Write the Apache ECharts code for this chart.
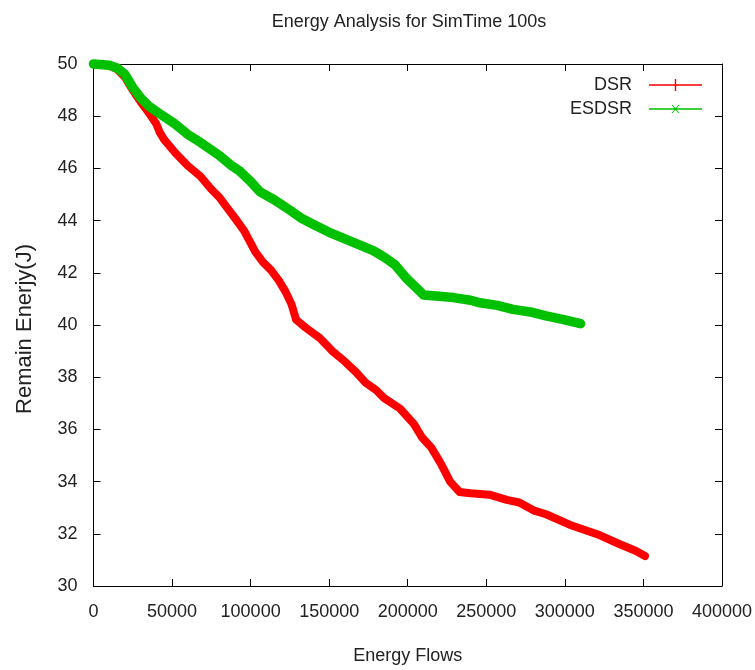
<!DOCTYPE html>
<html>
<head>
<meta charset="utf-8">
<script src="https://cdn.jsdelivr.net/npm/echarts@6/dist/echarts.min.js"></script>
<style>
html,body{margin:0;padding:0;background:#fff;}
#chart{width:755px;height:670px;}
</style>
</head>
<body>
<div id="chart"></div>
<script>
// Energy flows (x) and remaining energy (y)
var dsrX = [0,10000,15000,20000,25000,30000,35000,40000,42000,45000,52000,60000,68000,75000,80000,85000,90000,96000,103000,108000,113000,118000,122000,126000,129000,135000,144000,152000,160000,167000,173000,180000,185000,195000,204000,209000,215000,221000,227000,233000,240000,252000,263000,271000,280000,288000,303000,315000,322000,335000,345000,351000];
var dsrY = [50.0,49.95,49.8,49.5,49.0,48.55,48.15,47.7,47.4,47.1,46.6,46.1,45.7,45.2,44.9,44.5,44.1,43.6,42.8,42.4,42.1,41.7,41.3,40.8,40.2,39.9,39.5,39.0,38.6,38.2,37.8,37.5,37.2,36.8,36.2,35.7,35.3,34.7,34.0,33.6,33.55,33.5,33.3,33.2,32.9,32.75,32.35,32.1,31.95,31.6,31.35,31.15];
var esdsrX = [0,10000,15000,20000,25000,30000,35000,42000,52000,60000,68000,80000,88000,93000,100000,106000,115000,125000,132000,140000,150000,160000,170000,178000,185000,192000,199000,205000,210000,220000,229000,240000,246000,257000,267000,278000,288000,300000,310000];
var esdsrY = [50.0,49.95,49.85,49.6,49.1,48.7,48.4,48.1,47.7,47.3,47.0,46.5,46.1,45.9,45.5,45.1,44.8,44.4,44.1,43.85,43.55,43.3,43.05,42.85,42.6,42.3,41.8,41.45,41.15,41.1,41.05,40.95,40.85,40.75,40.6,40.5,40.35,40.2,40.05];
var seriesNames = ['DSR','ESDSR'];
var titleText = 'Energy Analysis for SimTime 100s';
var xName = 'Energy Flows';
var yName = 'Remain Enerjy(J)';

function pairs(xs, ys){ return xs.map(function(x,i){ return [x, ys[i]]; }); }

var FONT = 'Liberation Sans';
var chart = echarts.init(document.getElementById('chart'), null, {renderer:'canvas'});

var corner = 'M0,0 L0.01,0 L0,0.01 Z M53,14 L52.99,14 L53,13.99 Z ';
var plusIcon = 'path://' + corner + 'M0,6.3 L53,6.3 L53,7.7 L0,7.7 Z M25.8,1 L27.2,1 L27.2,13 L25.8,13 Z';
var crossIcon = 'path://' + corner + 'M0,6.3 L53,6.3 L53,7.7 L0,7.7 Z M22.5,3 L23.7,3 L30.5,11 L29.3,11 Z M29.3,3 L30.5,3 L23.7,11 L22.5,11 Z';

function tickStyle(){ return {show:true, inside:true, length:7, lineStyle:{color:'#000', width:1}}; }
function axisLineStyle(){ return {show:true, onZero:false, lineStyle:{color:'#000', width:1}}; }
function hiddenLabel(){ return {show:true, color:'rgba(0,0,0,0)', fontSize:10}; }

chart.setOption({
  animation:false,
  backgroundColor:'#fff',
  title:{
    text:titleText, left:404, top:8, textAlign:'center',
    textStyle:{fontFamily:FONT, fontSize:18, fontWeight:'normal', color:'#222'}
  },
  legend:{
    orient:'vertical', right:48, top:71, align:'right',
    itemWidth:53, itemHeight:14, itemGap:6,
    textStyle:{fontFamily:FONT, fontSize:18, color:'#222', padding:[0,12,0,0]},
    data:[
      {name:seriesNames[0], icon:plusIcon, itemStyle:{color:'#ff0000'}},
      {name:seriesNames[1], icon:crossIcon, itemStyle:{color:'#00c000'}}
    ]
  },
  grid:{left:93.5, right:33, top:64, bottom:81, show:false},
  xAxis:[{
    type:'value', min:0, max:400000, interval:50000, position:'bottom',
    name:xName, nameLocation:'middle', nameGap:61,
    nameTextStyle:{fontFamily:FONT, fontSize:18, color:'#222'},
    axisLine:axisLineStyle(), axisTick:tickStyle(),
    axisLabel:{fontFamily:FONT, fontSize:18, color:'#222', margin:17, formatter:function(v){return String(v);}},
    splitLine:{show:false}
  },{
    type:'value', min:0, max:400000, interval:50000, position:'top',
    axisLine:axisLineStyle(), axisTick:tickStyle(),
    axisLabel:hiddenLabel(), splitLine:{show:false}
  }],
  yAxis:[{
    type:'value', min:30, max:50, interval:2, position:'left',
    name:yName, nameLocation:'middle', nameGap:58,
    nameTextStyle:{fontFamily:FONT, fontSize:22, color:'#222', padding:[0,8,0,0]},
    axisLine:axisLineStyle(), axisTick:tickStyle(),
    axisLabel:{fontFamily:FONT, fontSize:18, color:'#222', margin:16},
    splitLine:{show:false}
  },{
    type:'value', min:30, max:50, interval:2, position:'right',
    axisLine:axisLineStyle(), axisTick:tickStyle(),
    axisLabel:hiddenLabel(), splitLine:{show:false}
  }],
  series:[{
    name:seriesNames[0], type:'line', data:pairs(dsrX, dsrY),
    symbol:'none', smooth:false, clip:false,
    lineStyle:{color:'#ff0000', width:8, join:'round', cap:'round'},
    itemStyle:{color:'#ff0000'}
  },{
    name:seriesNames[1], type:'line', data:pairs(esdsrX, esdsrY),
    symbol:'none', smooth:false, clip:false,
    lineStyle:{color:'#00c000', width:9.5, join:'round', cap:'round'},
    itemStyle:{color:'#00c000'}
  },{
    name:'mirror', type:'line', xAxisIndex:1, yAxisIndex:1, data:[],
    silent:true, symbol:'none'
  }]
});
</script>
</body>
</html>
